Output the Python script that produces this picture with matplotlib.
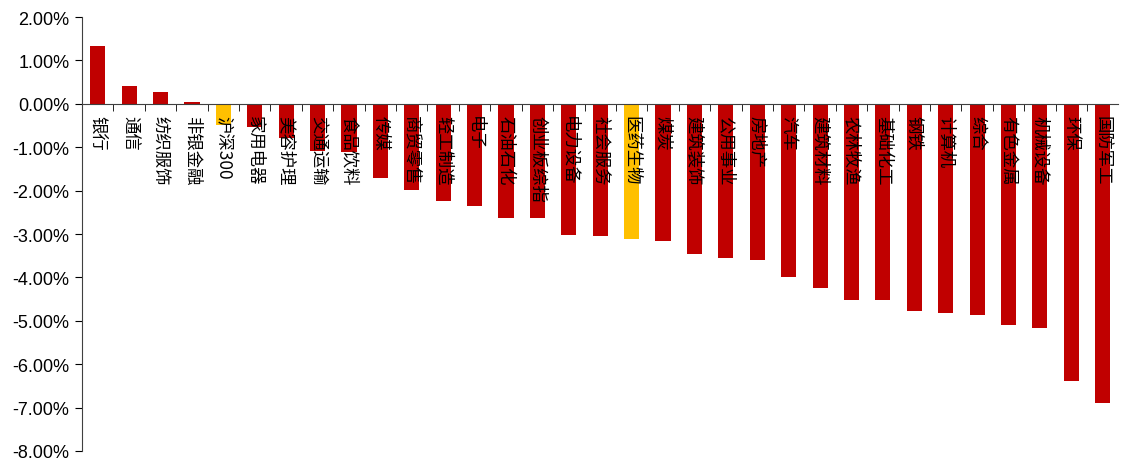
import matplotlib
matplotlib.use("Agg")
import matplotlib.pyplot as plt
import numpy as np
from matplotlib.ticker import FuncFormatter

plt.rcParams['font.family'] = ['Liberation Sans', 'Noto Sans CJK SC', 'DejaVu Sans']

# ---- data ----
industries = ["银行", "通信", "纺织服饰", "非银金融", "沪深300", "家用电器", "美容护理",
              "交通运输", "食品饮料", "传媒", "商贸零售", "轻工制造", "电子", "石油石化",
              "创业板综指", "电力设备", "社会服务", "医药生物", "煤炭", "建筑装饰", "公用事业",
              "房地产", "汽车", "建筑材料", "农林牧渔", "基础化工", "钢铁", "计算机", "综合",
              "有色金属", "机械设备", "环保", "国防军工"]
returns = [1.34, 0.42, 0.28, 0.05, -0.49, -0.53, -0.78, -1.08, -1.12, -1.70, -1.98,
           -2.24, -2.35, -2.62, -2.63, -3.02, -3.04, -3.12, -3.15, -3.45, -3.55, -3.60,
           -3.98, -4.24, -4.52, -4.52, -4.77, -4.82, -4.86, -5.09, -5.16, -6.38, -6.89]
highlight = ["沪深300", "医药生物"]

colors = ["#FFC000" if name in highlight else "#C00000" for name in industries]

fig = plt.figure(figsize=(11.24, 4.64), dpi=100)
ax = fig.add_axes([0.073, 0.026, 0.922, 0.935])

x = np.arange(len(industries))
ax.bar(x, returns, width=0.48, color=colors, zorder=2)

for i, name in enumerate(industries):
    ax.text(i, -0.25, name, rotation=-90, ha='center', va='top', fontsize=12.5,
            family=['Noto Sans CJK SC', 'DejaVu Sans'], zorder=3)

ax.set_xlim(-0.5, len(industries) - 0.5)
ax.set_ylim(-8, 2)
ax.set_yticks(np.arange(-8, 2.1, 1))
ax.yaxis.set_major_formatter(FuncFormatter(lambda v, p: "%.2f%%" % v))
ax.tick_params(axis='y', labelsize=13, length=5, pad=4, direction='out')

ax.set_xticks([])
ax.set_xticks(np.arange(0.5, len(industries) - 0.5, 1), minor=True)
ax.tick_params(axis='x', which='minor', length=5, direction='out', labelbottom=False)

ax.spines['top'].set_visible(False)
ax.spines['right'].set_visible(False)
ax.spines['bottom'].set_position(('data', 0))
ax.spines['bottom'].set_color('#404040')
ax.spines['left'].set_color('#404040')

fig.savefig("out.png", dpi=100)
